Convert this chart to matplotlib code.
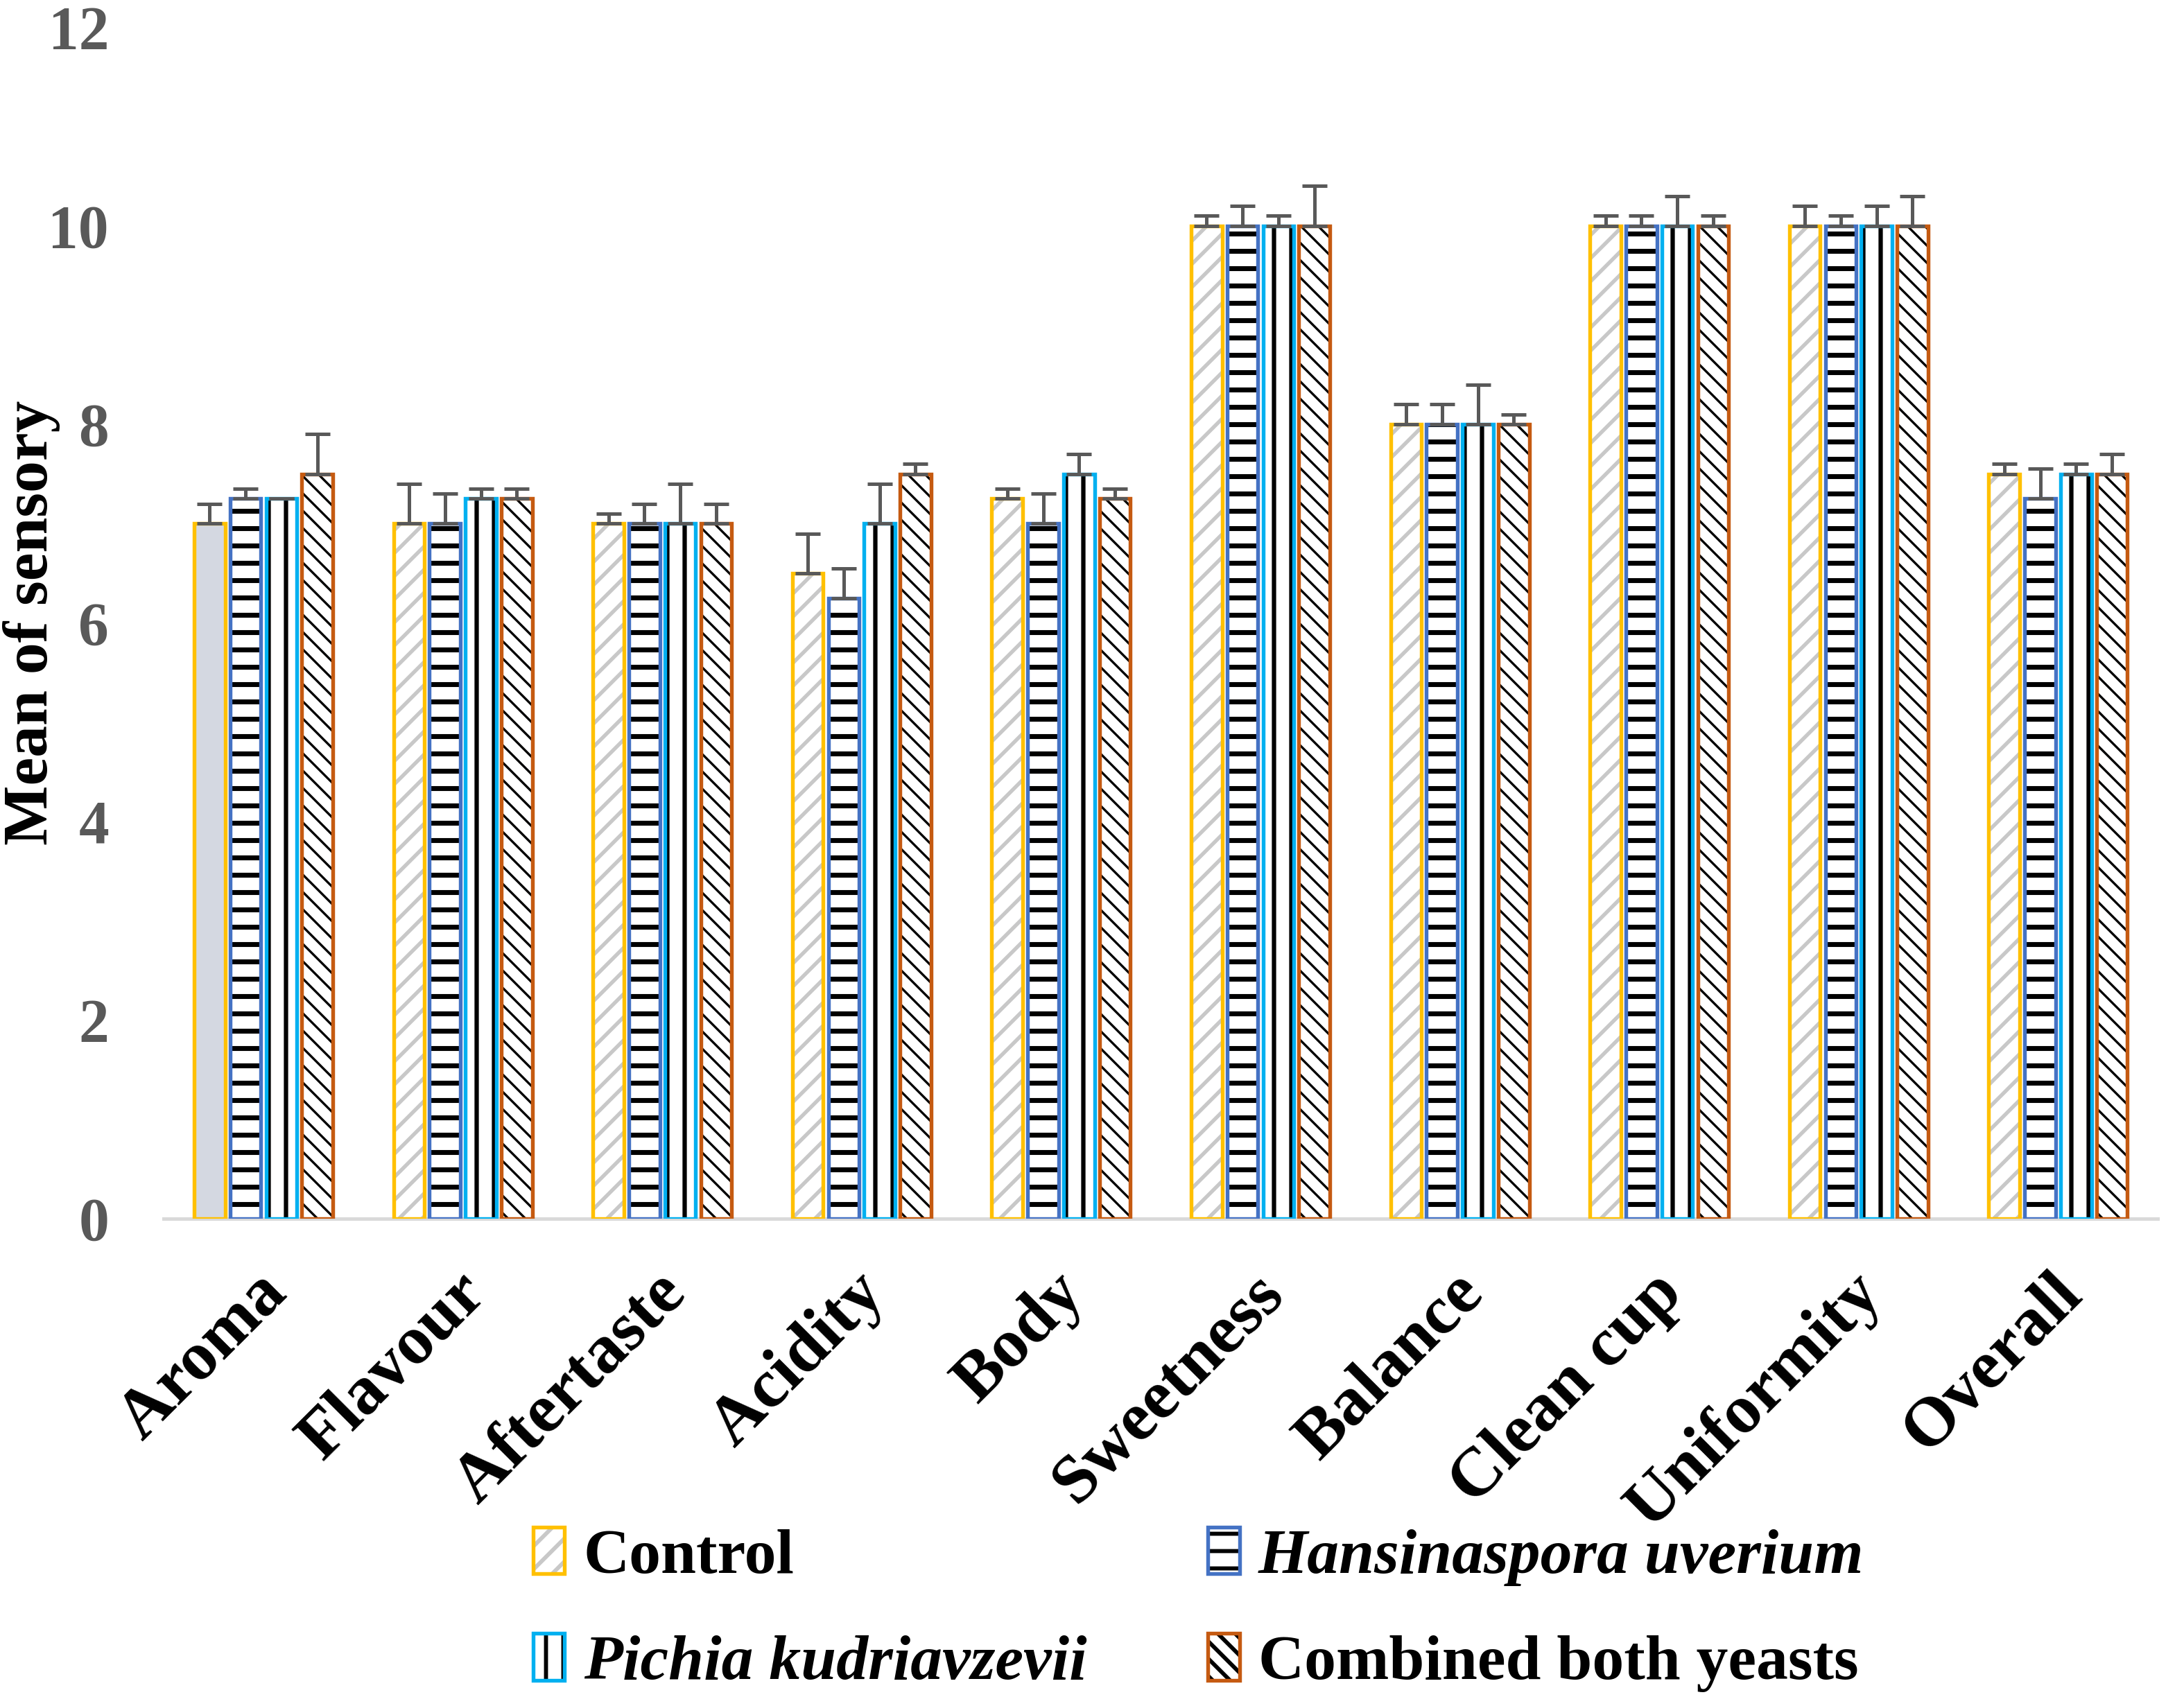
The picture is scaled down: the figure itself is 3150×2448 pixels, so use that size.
import numpy as np
import matplotlib
matplotlib.use('Agg')
import matplotlib.pyplot as plt
import matplotlib.patches as mpatches
import matplotlib.transforms as mtransforms

plt.rcParams['font.family'] = ['Liberation Serif', 'DejaVu Serif']
plt.rcParams['font.weight'] = 'bold'
plt.rcParams['hatch.linewidth'] = 1.4

# 데이터
attributes = ['Aroma', 'Flavour', 'Aftertaste', 'Acidity', 'Body',
              'Sweetness', 'Balance', 'Clean cup', 'Uniformity', 'Overall']
series = ['Control', 'Hansinaspora uverium', 'Pichia kudriavzevii', 'Combined both yeasts']

control = [7.0, 7.0, 7.0, 6.5, 7.25, 10.0, 8.0, 10.0, 10.0, 7.5]
hansinaspora = [7.25, 7.0, 7.0, 6.25, 7.0, 10.0, 8.0, 10.0, 10.0, 7.25]
pichia = [7.25, 7.25, 7.0, 7.0, 7.5, 10.0, 8.0, 10.0, 10.0, 7.5]
combined = [7.5, 7.25, 7.0, 7.5, 7.25, 10.0, 8.0, 10.0, 10.0, 7.5]

control_err = [0.2, 0.4, 0.1, 0.4, 0.1, 0.1, 0.2, 0.1, 0.2, 0.1]
hansinaspora_err = [0.1, 0.3, 0.2, 0.3, 0.3, 0.2, 0.2, 0.1, 0.1, 0.3]
pichia_err = [0.0, 0.1, 0.4, 0.4, 0.2, 0.1, 0.4, 0.3, 0.2, 0.1]
combined_err = [0.4, 0.1, 0.2, 0.1, 0.1, 0.4, 0.1, 0.1, 0.3, 0.2]

yticks = [0, 2, 4, 6, 8, 10, 12]

# 스타일
edge_colors = ['#FFC000', '#4472C4', '#00B0F0', '#C55A11']
hatch_colors = ['#C8C8C8', 'black', 'black', 'black']
hatches = ['///', '--', '||', '\\\\\\\\']
hatch_lws = [1.3, 1.7, 1.5, 0.8]

values = [control, hansinaspora, pichia, combined]
errors = [control_err, hansinaspora_err, pichia_err, combined_err]

fig = plt.figure(figsize=(10.5, 8.16), dpi=300)
ax = fig.add_axes([0.075, 0.282, 0.913, 0.702])

x = np.arange(len(attributes))
pitch = 0.18
width = 0.155

handles = []
for i in range(4):
    xpos = x + (i - 1.5) * pitch
    fill = ax.bar(xpos, values[i], width, color='white', edgecolor=hatch_colors[i],
                  hatch=hatches[i], linewidth=0, zorder=2)
    for b in fill:
        if hasattr(b, 'set_hatch_linewidth'):
            b.set_hatch_linewidth(hatch_lws[i])
    if i == 0:
        # Aroma 컨트롤 막대만 회색으로 채워져 있음
        fill[0].set_hatch(None)
        fill[0].set_facecolor('#D4D8E1')
    ax.bar(xpos, values[i], width, facecolor='none', edgecolor=edge_colors[i],
           linewidth=1.3, zorder=3)
    ax.errorbar(xpos, values[i], yerr=[np.zeros(len(errors[i])), errors[i]], fmt='none',
                ecolor='#595959', elinewidth=1.2, capsize=4.3, capthick=1.2, zorder=4)

    h_fill = mpatches.Patch(facecolor='white', edgecolor=hatch_colors[i], hatch=hatches[i], linewidth=0)
    if hasattr(h_fill, 'set_hatch_linewidth'):
        h_fill.set_hatch_linewidth(hatch_lws[i])
    h_edge = mpatches.Patch(facecolor='none', edgecolor=edge_colors[i], linewidth=1.3)
    handles.append((h_fill, h_edge))

ax.set_xlim(-0.5, len(attributes) - 0.5)
ax.set_ylim(0, 12)
ax.set_yticks(yticks)
ax.set_yticklabels([str(t) for t in yticks], fontsize=21, fontweight='bold', color='#595959')
ax.tick_params(axis='y', length=0, pad=19)
ax.tick_params(axis='x', length=0, pad=15)

ax.set_xticks(x)
ax.set_xticklabels(attributes, fontsize=24, fontweight='bold', rotation=45,
                   ha='right', va='top', rotation_mode='anchor')
offset = mtransforms.ScaledTranslation(-3 / 72, 0, fig.dpi_scale_trans)
for lab in ax.get_xticklabels():
    lab.set_transform(lab.get_transform() + offset)

for side in ['top', 'right', 'left']:
    ax.spines[side].set_visible(False)
ax.spines['bottom'].set_color('#D9D9D9')
ax.spines['bottom'].set_linewidth(1.2)

ax.set_ylabel('Mean of sensory', fontsize=22, fontweight='bold')
ax.yaxis.set_label_coords(-0.052, 0.5)

order = [0, 2, 1, 3]
leg = fig.legend([handles[k] for k in order], [series[k] for k in order], ncol=2,
                 loc='upper left', bbox_to_anchor=(0.244, 0.100), frameon=False,
                 prop={'size': 22, 'weight': 'bold'}, handlelength=0.5, handleheight=0.75,
                 handletextpad=0.3, columnspacing=1.9, labelspacing=0.75,
                 borderpad=0, borderaxespad=0)
for t in leg.get_texts():
    if t.get_text() in (series[1], series[2]):
        t.set_style('italic')

fig.savefig('out.png', dpi=300)
